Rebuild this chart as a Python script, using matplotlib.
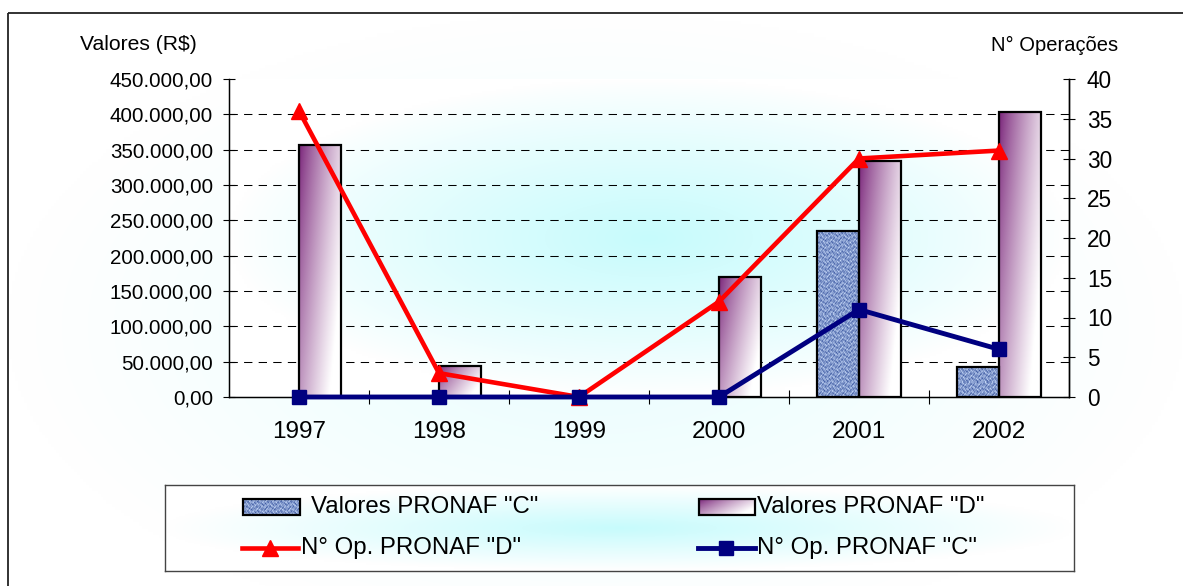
import numpy as np
import matplotlib
matplotlib.use('Agg')
import matplotlib.pyplot as plt
from matplotlib.patches import Rectangle
from matplotlib.ticker import FuncFormatter

# ---------------- data ----------------
years = ['1997', '1998', '1999', '2000', '2001', '2002']
valores_c = [0, 0, 0, 0, 235000, 42500]
valores_d = [357000, 44000, 0, 170000, 334000, 403000]
op_d = [36, 3, 0, 12, 30, 31]
op_c = [0, 0, 0, 0, 11, 6]
left_ticks = list(range(0, 450001, 50000))
right_ticks = list(range(0, 41, 5))

plt.rcParams['font.family'] = ['Liberation Sans', 'DejaVu Sans']

W, H = 1183, 586
fig = plt.figure(figsize=(W / 100, H / 100), dpi=100)


def px(x0, y0, x1, y1):
    return [x0 / W, 1 - y1 / H, (x1 - x0) / W, (y1 - y0) / H]


CYAN = np.array([0.78, 0.985, 0.99])


def radial(nx, ny, gamma=1.3, strength=1.0):
    x = np.linspace(-1, 1, nx)
    y = np.linspace(-1, 1, ny)
    X, Y = np.meshgrid(x, y)
    r = np.clip(np.sqrt(X ** 2 + Y ** 2), 0, 1)
    t = strength * (1 - r) ** gamma
    img = np.ones((ny, nx, 3))
    for k in range(3):
        img[..., k] = 1 + (CYAN[k] - 1) * t
    return img


def purple_grad(nx, ny):
    u = np.linspace(0, 1, nx)[None, :]
    v = np.linspace(0, 1, ny)[:, None]  # 0 top -> 1 bottom
    t = np.clip(0.75 * u + 0.45 * v, 0, 1) ** 0.8
    c0 = np.array([0.47, 0.13, 0.47])
    img = np.ones((ny, nx, 3))
    for k in range(3):
        img[..., k] = c0[k] + (1 - c0[k]) * t
    return img


def blue_texture(nx, ny):
    i = np.arange(ny)[:, None].astype(float)
    j = np.arange(nx)[None, :].astype(float)
    v = (np.sin(j * 1.9 + 2.3 * np.sin(i * 0.7))
         + np.sin(i * 1.3 + 2.1 * np.sin(j * 0.55))
         + 0.7 * np.sin((i * 0.8 + j) * 2.7)
         + 0.5 * np.sin((i * 2.1 - j * 1.3)))
    v = (v - v.min()) / (v.max() - v.min())
    dark = np.array([0.25, 0.36, 0.64])
    light = np.array([0.78, 0.85, 0.97])
    img = np.zeros((ny, nx, 3))
    for k in range(3):
        img[..., k] = dark[k] + (light[k] - dark[k]) * v
    return img


# ---------------- background (pixel coordinates) ----------------
bg = fig.add_axes([0, 0, 1, 1], zorder=-10)
bg.set_xlim(0, W)
bg.set_ylim(H, 0)
bg.axis('off')
bg.imshow(radial(400, 200, gamma=1.0, strength=0.4), extent=[8, 1183, 640, 13],
          aspect='auto', interpolation='bilinear', zorder=0)
bg.imshow(radial(300, 150, gamma=0.85), extent=[229, 1069, 397, 79],
          aspect='auto', interpolation='bilinear', zorder=1)
bg.imshow(radial(300, 60, gamma=1.0), extent=[165, 1074, 571, 485],
          aspect='auto', interpolation='bilinear', zorder=1)
bg.add_patch(Rectangle((8, 13), 1300, 700, fill=False, ec='#222222', lw=1.3, zorder=3))
bg.set_xlim(0, W)
bg.set_ylim(H, 0)

# ---------------- main axes ----------------
ax = fig.add_axes(px(229, 79, 1069, 397))
ax.patch.set_visible(False)
x = np.arange(len(years))
bw = 0.3

for v in left_ticks[1:-1]:
    ax.axhline(v, color='black', lw=0.75, linestyle=(0, (8, 6)), zorder=1)

vis_c = [v > 0 for v in valores_c]
vis_d = [v > 0 for v in valores_d]
bars_c = ax.bar(x - bw / 2, valores_c, bw, facecolor='none',
                edgecolor=['black' if s else 'none' for s in vis_c], lw=1.6, zorder=3)
bars_d = ax.bar(x + bw / 2, valores_d, bw, facecolor='none',
                edgecolor=['black' if s else 'none' for s in vis_d], lw=1.6, zorder=3)

ax.set_xlim(-0.5, len(years) - 0.5)
ax.set_ylim(0, 450000)

for bar in bars_c:
    h = bar.get_height()
    if h <= 0:
        continue
    npx = max(int(h / 450000 * 318), 2)
    im = ax.imshow(blue_texture(42, npx), extent=[bar.get_x(), bar.get_x() + bar.get_width(), 0, h],
                   aspect='auto', interpolation='nearest', zorder=2.5)
    im.set_clip_path(bar)
for bar in bars_d:
    h = bar.get_height()
    if h <= 0:
        continue
    im = ax.imshow(purple_grad(60, 120), extent=[bar.get_x(), bar.get_x() + bar.get_width(), 0, h],
                   aspect='auto', interpolation='bilinear', zorder=2.5)
    im.set_clip_path(bar)

ax.set_xlim(-0.5, len(years) - 0.5)
ax.set_ylim(0, 450000)
ax.set_yticks(left_ticks)
ax.yaxis.set_major_formatter(FuncFormatter(
    lambda v, p: f"{v:,.2f}".replace(',', 'X').replace('.', ',').replace('X', '.')))
ax.set_xticks(x)
ax.set_xticklabels(years)
ax.set_xticks(np.arange(0.5, len(years) - 0.5, 1), minor=True)
ax.tick_params(axis='x', which='major', length=0, pad=17.5, labelsize=17.5)
ax.tick_params(axis='x', which='minor', direction='inout', length=9.4, width=0.8)
ax.tick_params(axis='y', direction='inout', length=8, width=0.8, pad=7.5, labelsize=14.8)
ax.spines['top'].set_visible(False)
for s in ['left', 'right', 'bottom']:
    ax.spines[s].set_color('black')
    ax.spines[s].set_linewidth(1.0)

ax2 = ax.twinx()
ax2.plot(x, op_d, color='#FF0000', lw=3.3, marker='^', ms=11, clip_on=False, zorder=4)
ax2.plot(x, op_c, color='#000080', lw=3.5, marker='s', ms=10, clip_on=False, zorder=5)
ax2.set_ylim(0, 40)
ax2.set_yticks(right_ticks)
ax2.tick_params(axis='y', direction='inout', length=8.6, width=0.8, pad=8.5, labelsize=16.3)
ax2.spines['top'].set_visible(False)
ax2.spines['right'].set_color('black')
ax2.spines['right'].set_linewidth(1.0)

fig.text(80 / W, 1 - 45 / H, 'Valores (R$)', ha='left', va='center', fontsize=15.2)
fig.text(1118 / W, 1 - 45 / H, 'N° Operações', ha='right', va='center', fontsize=14.5)

# ---------------- legend (drawn in pixel coordinates) ----------------
lg = fig.add_axes(px(165, 485, 1074, 571))
lg.set_xlim(165, 1074)
lg.set_ylim(571, 485)
lg.patch.set_visible(False)
lg.set_xticks([])
lg.set_yticks([])
for s in lg.spines.values():
    s.set_color('#444444')
    s.set_linewidth(1.0)

rc = Rectangle((243, 499), 57, 16, fill=False, ec='black', lw=1.6, zorder=3)
lg.add_patch(rc)
imc = lg.imshow(blue_texture(57, 16), extent=[243, 300, 515, 499], aspect='auto',
                interpolation='nearest', zorder=2)
rd = Rectangle((699, 499), 56, 16, fill=False, ec='black', lw=1.6, zorder=3)
lg.add_patch(rd)
imd = lg.imshow(purple_grad(60, 20), extent=[699, 755, 515, 499], aspect='auto',
                interpolation='bilinear', zorder=2)
lg.plot([242, 298], [548, 548], color='#FF0000', lw=3.3)
lg.plot([270], [548], color='#FF0000', marker='^', ms=11)
lg.plot([698, 755], [548, 548], color='#000080', lw=3.5)
lg.plot([726], [548], color='#000080', marker='s', ms=10)
lg.set_xlim(165, 1074)
lg.set_ylim(571, 485)

lfs = 17.3
lg.text(311, 507, 'Valores PRONAF "C"', va='center', ha='left', fontsize=lfs)
lg.text(757, 507, 'Valores PRONAF "D"', va='center', ha='left', fontsize=lfs)
lg.text(301, 548, 'N° Op. PRONAF "D"', va='center', ha='left', fontsize=lfs)
lg.text(757, 548, 'N° Op. PRONAF "C"', va='center', ha='left', fontsize=lfs)

fig.savefig('out.png', dpi=100)
